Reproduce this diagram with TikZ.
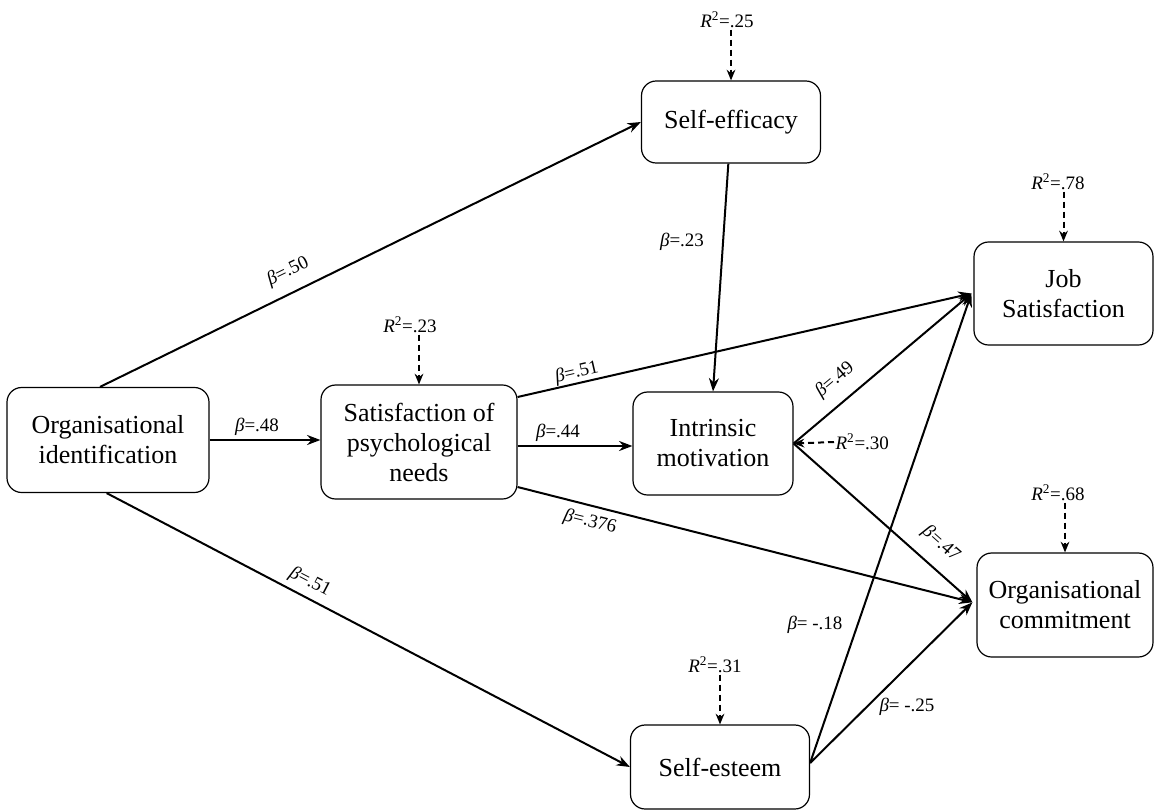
\documentclass[tikz,border=0pt]{standalone}
\usepackage{fontspec}
\setmainfont{Liberation Serif}
\newfontfamily\tnrfont{Liberation Serif}
\usetikzlibrary{arrows.meta,calc}
\newcommand\myrsq[1]{\textit{R}\textsuperscript{2}=#1}
\newcommand\mybeta[1]{\textit{β}=#1}
\begin{document}
\begin{tikzpicture}[x=0.75pt,y=-0.75pt,
  box/.style={draw,line width=0.9pt,rounded corners=11pt,align=center,
    font=\tnrfont\fontsize{19.5pt}{22.5pt}\selectfont,inner sep=0pt},
  conn/.style={line width=1.5pt,-{Stealth[length=10pt,width=7.5pt]}},
  rsq/.style={line width=1.5pt,dash pattern=on 4.5pt off 3pt,-{Stealth[length=8pt,width=6.5pt]}},
  lab/.style={font=\tnrfont\fontsize{14.25pt}{16pt}\selectfont,inner sep=1pt}]
\useasboundingbox (0,0) rectangle (1157,810);

% boxes
\node[box,minimum width=151.5pt,minimum height=78.75pt] (oi) at (108,440) {Organisational\\identification};
\node[box,minimum width=147pt,minimum height=85.5pt] (spn) at (419,442) {Satisfaction of\\psychological\\needs};
\node[box,minimum width=120pt,minimum height=77.25pt] (im) at (713,443.5) {Intrinsic\\motivation};
\node[box,minimum width=134.25pt,minimum height=61.5pt] (se) at (731,122) {Self-efficacy};
\node[box,minimum width=134.25pt,minimum height=77.25pt] (js) at (1063.5,293.5) {Job\\Satisfaction};
\node[box,minimum width=132pt,minimum height=78pt] (oc) at (1065,605) {Organisational\\commitment};
\node[box,minimum width=134.25pt,minimum height=63pt] (ses) at (720,767) {Self-esteem};

% R-squared labels
\node[lab] (r1) at (727,20) {\myrsq{.25}};
\node[lab] (r2) at (410,325) {\myrsq{.23}};
\node[lab] (r3) at (1058,182) {\myrsq{.78}};
\node[lab] (r4) at (1058,493) {\myrsq{.68}};
\node[lab] (r5) at (715,665) {\myrsq{.31}};
\node[lab,anchor=west] (r6) at (834,442) {\myrsq{.30}};

\draw[rsq] (r1.south -| se.north) -- (se.north);
\draw[rsq] (r2.south -| spn.north) -- (spn.north);
\draw[rsq] (r3.south -| js.north) -- (js.north);
\draw[rsq] (r4.south -| oc.north) -- (oc.north);
\draw[rsq] (r5.south -| ses.north) -- (ses.north);
\draw[rsq] (r6.west) -- (im.east);

% structural paths
\draw[conn] ([xshift=-6pt]oi.north) -- (se.west);
\draw[conn] (oi.east) -- (oi.east -| spn.west);
\draw[conn] ([xshift=-1pt]oi.south) -- (ses.west);
\draw[conn] ([yshift=-3pt]spn.east) -- ([yshift=-3pt]spn.east -| im.west);
\draw[conn] ([yshift=33.75pt]spn.east) -- ([xshift=-1.5pt]js.west);
\draw[conn] ([yshift=-33.75pt]spn.east) -- ([xshift=-3pt,yshift=2pt]oc.west);
\draw[conn] ([xshift=-2pt]se.south) -- (im.north);
\draw[conn] (im.east) -- ([xshift=-1.5pt]js.west);
\draw[conn] (im.east) -- ([xshift=-3pt,yshift=2pt]oc.west);
\draw[conn] ([yshift=3pt]ses.east) -- ([xshift=-1.5pt]js.west);
\draw[conn] ([yshift=3pt]ses.east) -- ([xshift=-3pt,yshift=2pt]oc.west);

% beta labels
\node[lab,rotate=26] (b1) at (288,272) {\mybeta{.50}};
\node[lab] (b2) at (257,427) {\mybeta{.48}};
\node[lab,rotate=13] (b3) at (577,373) {\mybeta{.51}};
\node[lab] (b4) at (558,433) {\mybeta{.44}};
\node[lab] (b5) at (682,242) {\mybeta{.23}};
\node[lab,rotate=40] (b6) at (835,380) {\mybeta{.49}};
\node[lab,rotate=-41.6] (b7) at (941,544) {\mybeta{.47}};
\node[lab,rotate=-14] (b8) at (590,522) {\mybeta{.376}};
\node[lab,rotate=-27.5] (b9) at (310,582) {\mybeta{.51}};
\node[lab] (b10) at (815,625) {\mybeta{ -.18}};
\node[lab] (b11) at (907,707) {\mybeta{ -.25}};
\end{tikzpicture}
\end{document}
